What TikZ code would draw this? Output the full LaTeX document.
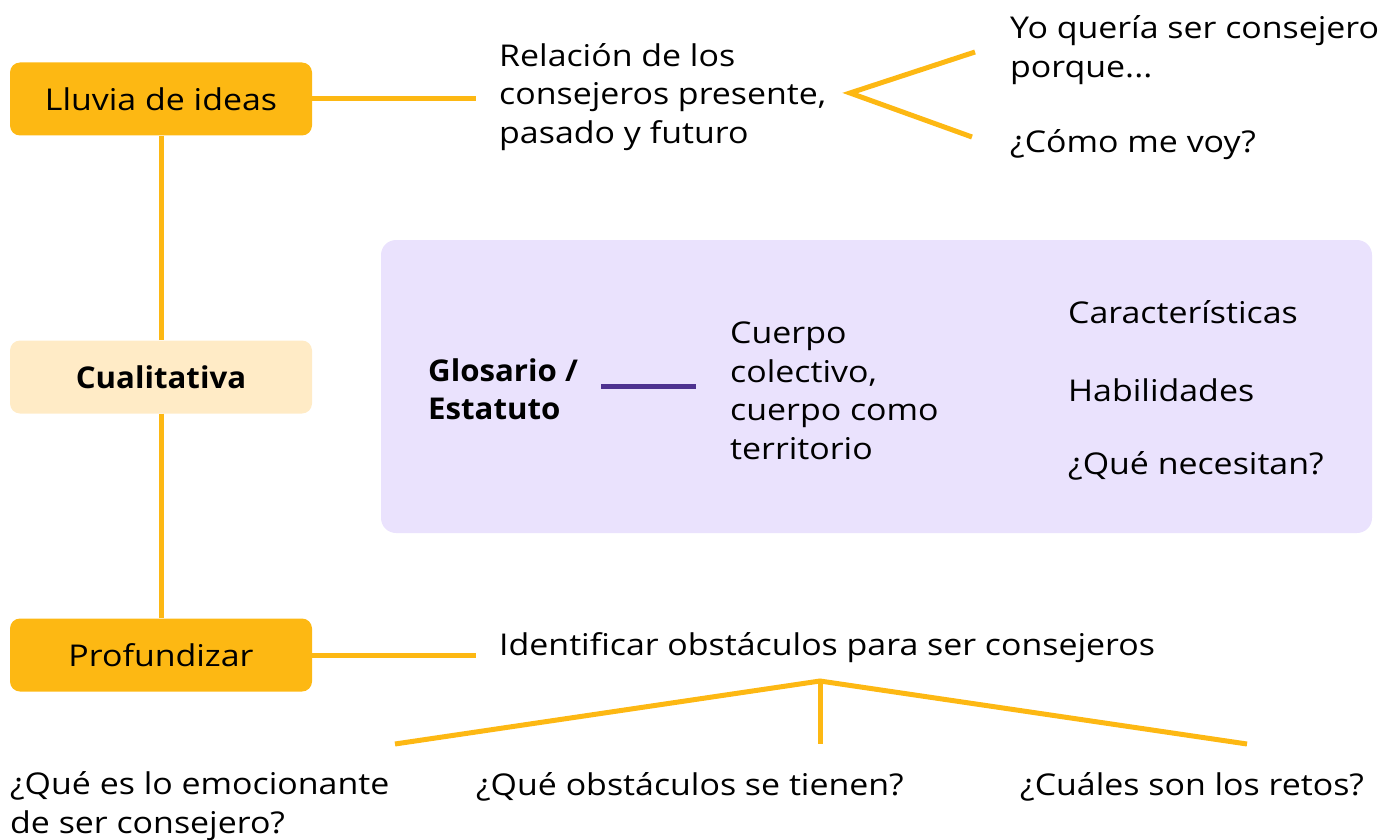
\documentclass[tikz,border=0pt]{standalone}
\usepackage{fontspec}
\setmainfont{Open Sans}[FakeStretch=1.13]
\newfontfamily\bfam{Open Sans}[FakeStretch=1.04]
\definecolor{gold}{HTML}{FDB813}
\definecolor{cream}{HTML}{FFEBC6}
\definecolor{lav}{HTML}{EAE2FD}
\definecolor{purp}{HTML}{4E3290}
\begin{document}
\begin{tikzpicture}[x=1pt,y=-1pt,
  box/.style={rounded corners=10pt,minimum width=302pt,minimum height=73pt,inner sep=0pt,font=\fontsize{30}{36}\selectfont},
  txt/.style={anchor=west,inner sep=0pt,align=left,font=\fontsize{30}{38.5}\selectfont},
  gl/.style={draw=gold,line width=5pt},
  pl/.style={draw=purp,line width=5pt}]
\useasboundingbox (0,0) rectangle (1392,840);
\fill[lav,rounded corners=15pt] (381,240) rectangle (1372,533);
\node[box,fill=gold] (lluvia) at (161,99) {Lluvia de ideas};
\node[box,fill=cream,font=\fontsize{30}{36}\bfam\bfseries] (cual) at (161,377) {Cualitativa};
\node[box,fill=gold] (prof) at (161,655) {Profundizar};
\draw[gl] (lluvia.south) -- (cual.north);
\draw[gl] (cual.south) -- (prof.north);
\coordinate (l1) at (476,99);
\draw[gl] (lluvia.east) -- (l1);
\node[txt] (rel) at (499,97) {Relación de los\\consejeros presente,\\pasado y futuro};
\coordinate (apex1) at (850,93);
\coordinate (c1) at (975,52);
\coordinate (c2) at (972,137);
\draw[gl] (c1) -- (apex1) -- (c2);
\node[txt] (yo) at (1010,50) {Yo quería ser consejero\\porque...};
\node[txt] (como) at (1010,145) {¿Cómo me voy?};
\node[txt,font=\fontsize{30}{38.5}\bfam\bfseries] (glos) at (428,389) {Glosario /\\Estatuto};
\coordinate (p1) at (601,386);
\coordinate (p2) at (696,386);
\draw[pl] (p1) -- (p2);
\node[txt] (cuerpo) at (730,391) {Cuerpo\\colectivo,\\cuerpo como\\territorio};
\node[txt] (car) at (1068,312) {Características};
\node[txt] (hab) at (1068,390) {Habilidades};
\node[txt] (nec) at (1068,466) {¿Qué necesitan?};
\coordinate (l2) at (476,655);
\draw[gl] (prof.east) -- (l2);
\node[txt] (ident) at (499,648) {Identificar obstáculos para ser consejeros};
\coordinate (apex2) at (820,681);
\coordinate (f1) at (395,744);
\coordinate (f2) at (820,744);
\coordinate (f3) at (1247,744);
\draw[gl] (f1) -- (apex2) -- (f3);
\draw[gl] (apex2) -- (f2);
\node[txt] (emo) at (10,806) {¿Qué es lo emocionante\\de ser consejero?};
\node[txt] (obs) at (476,787) {¿Qué obstáculos se tienen?};
\node[txt] (retos) at (1020,787) {¿Cuáles son los retos?};
\end{tikzpicture}
\end{document}
